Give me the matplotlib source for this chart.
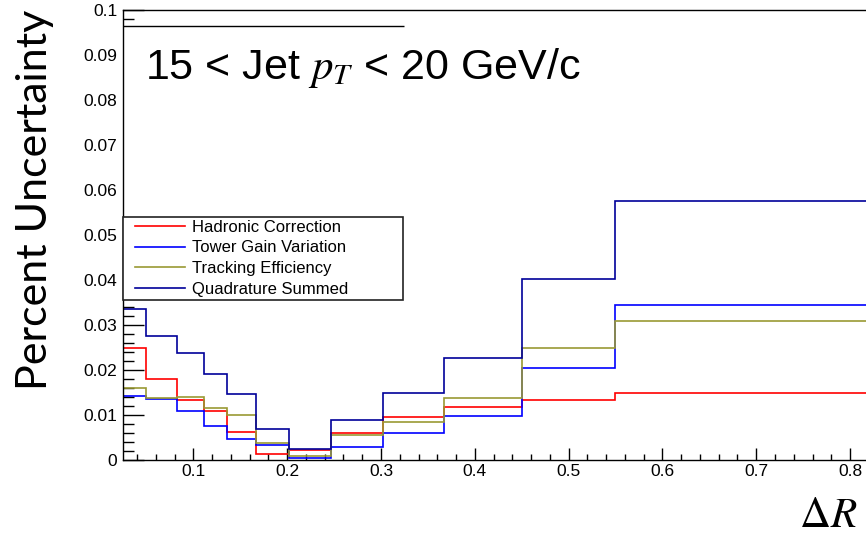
import matplotlib
matplotlib.use("Agg")
import matplotlib.pyplot as plt
from matplotlib.lines import Line2D
from matplotlib.patches import Rectangle
from matplotlib.ticker import MultipleLocator, FuncFormatter
from matplotlib.legend_handler import HandlerLine2D

plt.rcParams['mathtext.fontset'] = 'stix'

# ---- data ----
bin_edges = [0.025, 0.0497, 0.0827, 0.1117, 0.1362, 0.1668, 0.2023, 0.2467,
             0.3021, 0.3674, 0.4502, 0.5499, 0.95]
hadronic = [0.0248, 0.0181, 0.0133, 0.0108, 0.0062, 0.0013, 0.0022, 0.0059,
            0.0096, 0.0117, 0.0134, 0.0148]
tower_gain = [0.0143, 0.0136, 0.0108, 0.0076, 0.0046, 0.0033, 0.0004, 0.0029,
              0.0059, 0.0097, 0.0204, 0.0344]
tracking = [0.0159, 0.0138, 0.0141, 0.0115, 0.0099, 0.0038, 0.0008, 0.0055,
            0.0085, 0.0138, 0.0248, 0.0310]
quadrature = [0.0336, 0.0276, 0.0238, 0.0192, 0.0146, 0.0068, 0.0024, 0.0089,
              0.0150, 0.0227, 0.0403, 0.0576]
labels = ["Hadronic Correction", "Tower Gain Variation",
          "Tracking Efficiency", "Quadrature Summed"]
colors = ["#ff0000", "#0000ff", "#999933", "#000099"]
title_text = "15 < Jet $p_T$ < 20 GeV/c"
x_label = r"$\Delta R$"
y_label = "Percent Uncertainty"

x_min, x_max = 0.025, 0.817
y_min, y_max = 0.0, 0.1
pave_right = 0.3245
pave_top = 0.0964


class OffsetLineHandler(HandlerLine2D):
    def create_artists(self, legend, orig_handle, xdescent, ydescent,
                       width, height, fontsize, trans):
        return super().create_artists(legend, orig_handle, xdescent - 6.5,
                                      ydescent, width, height, fontsize, trans)


W, H = 866, 535
fig = plt.figure(figsize=(W / 100, H / 100), dpi=100)
ax = fig.add_axes([123 / W, 75 / H, 743 / W, 450 / H])

series = [hadronic, tower_gain, tracking, quadrature]
for vals, c in zip(series, colors):
    ax.stairs(vals, bin_edges, baseline=None, color=c, lw=1.2, zorder=2)

ax.set_xlim(x_min, x_max)
ax.set_ylim(y_min, y_max)

ax.spines['right'].set_visible(False)
for s in ['left', 'bottom', 'top']:
    ax.spines[s].set_linewidth(1.0)
    ax.spines[s].set_zorder(4)

ax.xaxis.set_major_locator(MultipleLocator(0.1))
ax.xaxis.set_minor_locator(MultipleLocator(0.02))
ax.yaxis.set_major_locator(MultipleLocator(0.01))
ax.yaxis.set_minor_locator(MultipleLocator(0.002))
fmt = FuncFormatter(lambda v, p: "%g" % round(v, 4))
ax.xaxis.set_major_formatter(fmt)
ax.yaxis.set_major_formatter(fmt)

ax.tick_params(axis='y', which='major', direction='in', length=15, width=1, pad=4)
ax.tick_params(axis='y', which='minor', direction='in', length=8, width=1)
ax.tick_params(axis='x', which='major', direction='in', length=8.6, width=1, pad=3)
ax.tick_params(axis='x', which='minor', direction='in', length=4.3, width=1)
for lab in ax.get_xticklabels() + ax.get_yticklabels():
    lab.set_fontfamily('Liberation Sans')
    lab.set_fontsize(12.5)

# legend
handles = [Line2D([], [], color=c, lw=1.2) for c in colors]
leg = ax.legend(handles, labels, loc='upper left',
                bbox_to_anchor=(0, 0.353, 0.377, 0.187), mode='expand',
                borderaxespad=0, fancybox=False, edgecolor='#222222',
                framealpha=1, prop=dict(family='Liberation Sans', size=12),
                handlelength=3, handletextpad=1.0, labelspacing=0.34,
                borderpad=0.17,
                handler_map={Line2D: OffsetLineHandler()})
leg.get_frame().set_linewidth(1.2)
leg.set_zorder(5)

# white title pave covering the ticks
leg_top = 0.54 * (y_max - y_min) + y_min
ax.add_patch(Rectangle((x_min, leg_top), pave_right - x_min, pave_top - leg_top,
                       facecolor='white', edgecolor='none', zorder=3))
ax.plot([x_min, pave_right], [pave_top, pave_top], color='black', lw=1.0,
        zorder=4, solid_capstyle='butt')

fig.text(145 / W, 1 - 79 / H, title_text, fontsize=31, family='Liberation Sans',
         va='baseline', ha='left')
fig.text(799 / W, 1 - 527 / H, x_label, fontsize=31, va='baseline', ha='left')
fig.text(35 / W, 1 - 200 / H, y_label, rotation=90, fontsize=31, family='Lato',
         va='center', ha='center')

fig.savefig("out.png", dpi=100)
